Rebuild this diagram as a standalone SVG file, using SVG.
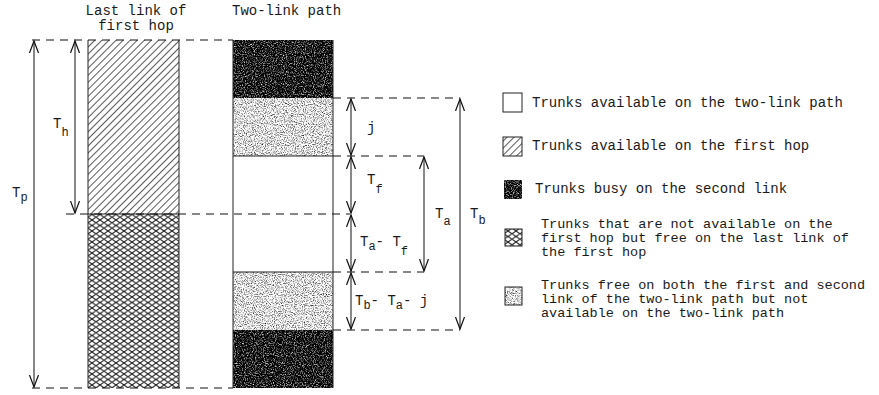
<svg xmlns="http://www.w3.org/2000/svg" width="879" height="395" viewBox="0 0 879 395">
<defs>
<style>
text{font-family:"Liberation Mono","Courier New",monospace;fill:#1a1a1a;}
.t{font-size:14px;}
.lg{font-size:13.5px;}
.sub{font-size:12px;}
.dash{stroke:#111;stroke-width:1.2;stroke-dasharray:8 6;fill:none;}
.edge{stroke:#222;stroke-width:1;fill:none;}
.arr{stroke:#111;stroke-width:1;fill:none;marker-start:url(#ah);marker-end:url(#ah);}
.box{stroke:#222;stroke-width:1;}
</style>
<marker id="ah" markerUnits="userSpaceOnUse" markerWidth="14" markerHeight="12" viewBox="-12 -6 14 12" refX="0" refY="0" orient="auto-start-reverse">
<path d="M-12,-4.5 L0,0 L-12,4.5" fill="none" stroke="#111" stroke-width="1.2"/>
</marker>
<pattern id="hatch" patternUnits="userSpaceOnUse" width="5" height="5" patternTransform="rotate(45)">
<rect width="5" height="5" fill="#fff"/>
<line x1="0" y1="0" x2="0" y2="5" stroke="#000" stroke-width="1.3"/>
</pattern>
<pattern id="cross" patternUnits="userSpaceOnUse" width="8" height="5.5">
<rect width="8" height="5.5" fill="#fff"/>
<path d="M0,2.75 L4,0 L8,2.75 L4,5.5 Z" fill="none" stroke="#222" stroke-width="1.1"/>
</pattern>
<filter id="stipDark" x="0" y="0" width="1" height="1" color-interpolation-filters="sRGB">
<feTurbulence type="fractalNoise" baseFrequency="0.9" numOctaves="2" seed="3" result="n"/>
<feColorMatrix in="n" type="matrix" values="2.2 0 0 0 -1.0  2.2 0 0 0 -1.0  2.2 0 0 0 -1.0  0 0 0 0 1"/>
<feComposite operator="in" in2="SourceGraphic"/>
</filter>
<filter id="stipLight" x="0" y="0" width="1" height="1" color-interpolation-filters="sRGB">
<feTurbulence type="fractalNoise" baseFrequency="0.9" numOctaves="2" seed="7" result="n"/>
<feColorMatrix in="n" type="matrix" values="2.0 0 0 0 -0.13  2.0 0 0 0 -0.13  2.0 0 0 0 -0.13  0 0 0 0 1"/>
<feComposite operator="in" in2="SourceGraphic"/>
</filter>
</defs>
<rect width="879" height="395" fill="#fff"/>

<g id="titles">
<text class="t" x="136" y="15" text-anchor="middle">Last link of</text>
<text class="t" x="136" y="30" text-anchor="middle">first hop</text>
<text class="t" x="232" y="15">Two-link path</text>
</g>

<g id="first-hop-column">
<rect x="88" y="40" width="91" height="174" fill="url(#hatch)"/>
<rect x="88" y="214" width="91" height="174" fill="url(#cross)"/>
<path class="edge" d="M88,40 V388 M179,40 V388 M88,214 H179"/>
</g>

<g id="two-link-column">
<rect x="233" y="40" width="100" height="58" fill="#000" filter="url(#stipDark)"/>
<rect x="233" y="98" width="100" height="58" fill="#000" filter="url(#stipLight)"/>
<rect x="233" y="156" width="100" height="116" fill="#fff"/>
<rect x="233" y="272" width="100" height="58" fill="#000" filter="url(#stipLight)"/>
<rect x="233" y="330" width="100" height="58" fill="#000" filter="url(#stipDark)"/>
<path class="edge" d="M233,40 V388 M333,40 V388 M233,156 H333 M233,272 H333"/>
</g>

<g id="connectors">
<path class="dash" d="M32,40 H233"/>
<path class="dash" d="M66,214 H350"/>
<path class="dash" d="M32,388 H233"/>
<path class="dash" d="M333,98 H460"/>
<path class="dash" d="M333,156 H424"/>
<path class="dash" d="M333,272 H424"/>
<path class="dash" d="M333,330 H460"/>
<path class="arr" d="M34,41 V387"/>
<path class="arr" d="M75,41 V213"/>
<path class="arr" d="M351,99 V155"/>
<path class="arr" d="M351,157 V213"/>
<path class="arr" d="M351,215 V271"/>
<path class="arr" d="M351,273 V329"/>
<path class="arr" d="M424,157 V271"/>
<path class="arr" d="M460,99 V329"/>
</g>

<g id="labels">
<text class="t" x="12" y="197">T<tspan class="sub" dy="4">p</tspan></text>
<text class="t" x="53" y="128">T<tspan class="sub" dy="8">h</tspan></text>
<text class="t" x="367" y="132">j</text>
<text class="t" x="367" y="184">T<tspan class="sub" dy="9">f</tspan></text>
<text class="t" x="435" y="218">T<tspan class="sub" dy="7">a</tspan></text>
<text class="t" x="470" y="218">T<tspan class="sub" dy="6">b</tspan></text>
<text class="t" x="360" y="246">T<tspan class="sub" dy="4">a</tspan><tspan dy="-4">- </tspan>T<tspan class="sub" dy="9">f</tspan></text>
<text class="t" x="355" y="305">T<tspan class="sub" dy="4">b</tspan><tspan dy="-4">- </tspan>T<tspan class="sub" dy="4">a</tspan><tspan dy="-4">- j</tspan></text>
</g>

<g id="legend">
<g id="legend-available">
<rect class="box" x="503" y="93" width="19" height="19" fill="#fff"/>
<text class="t" x="532" y="107">Trunks available on the two-link path</text>
</g>
<g id="legend-first-hop">
<rect class="box" x="503" y="137" width="19" height="19" fill="url(#hatch)"/>
<text class="t" x="532" y="150">Trunks available on the first hop</text>
</g>
<g id="legend-busy">
<rect x="504" y="180" width="18" height="19" fill="#000" filter="url(#stipDark)"/>
<text class="t" x="535" y="193">Trunks busy on the second link</text>
</g>
<g id="legend-last-link">
<rect class="box" x="505" y="229" width="17" height="17" fill="url(#cross)"/>
<text class="lg" x="541" y="228">Trunks that are not available on the</text>
<text class="lg" x="541" y="242">first hop but free on the last link of</text>
<text class="lg" x="541" y="256">the first hop</text>
</g>
<g id="legend-free-both">
<rect x="505" y="287" width="17" height="18" fill="#000" filter="url(#stipLight)"/>
<rect class="box" x="505" y="287" width="17" height="18" fill="none"/>
<text class="lg" x="541" y="289">Trunks free on both the first and second</text>
<text class="lg" x="541" y="303">link of the two-link path but not</text>
<text class="lg" x="541" y="317">available on the two-link path</text>
</g>
</g>
</svg>
